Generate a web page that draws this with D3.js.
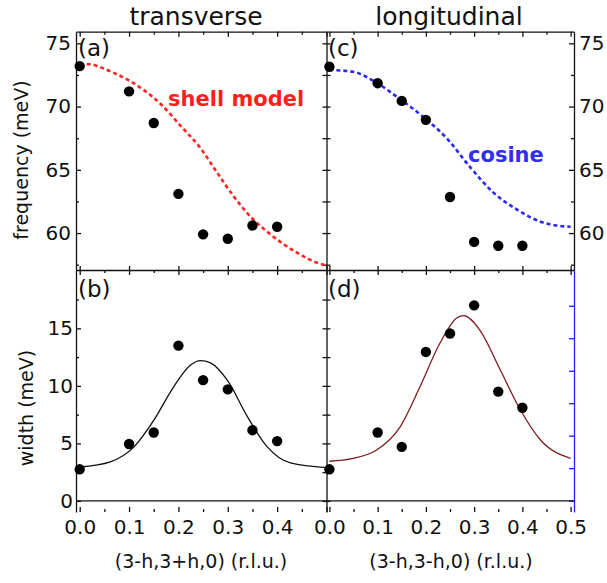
<!DOCTYPE html>
<html lang="en">
<head>
<meta charset="utf-8">
<title>transverse / longitudinal</title>
<script src="https://d3js.org/d3.v7.min.js"></script>
<style>
  body { margin: 0; background: #fff; }
  text { font-family: "DejaVu Sans", sans-serif; fill: #111; }
  .axis path, .axis line { stroke: #111; stroke-width: 1.3; }
  .blue path, .blue line { stroke: #2020ff; }
</style>
</head>
<body>
<div id="chart"></div>
<script>
// measured points (h in r.l.u.)
var hPts = [0, 0.1, 0.15, 0.2, 0.25, 0.3, 0.35, 0.4]
var freqTrans = [73.2, 71.2, 68.7, 63.1, 59.9, 59.55, 60.6, 60.5]
var freqLong = [73.15, 71.85, 70.45, 68.95, 62.85, 59.3, 59.0, 59.0]
var widthTrans = [2.75, 4.95, 5.95, 13.5, 10.5, 9.7, 6.15, 5.2]
var widthLong = [2.75, 5.95, 4.7, 12.95, 14.55, 17.0, 9.5, 8.1]

// model curves
var shellH = [0, 0.02, 0.042, 0.07, 0.103, 0.13, 0.164, 0.204, 0.245, 0.278, 0.312, 0.346, 0.38, 0.414, 0.447, 0.481, 0.5]
var shellF = [73.35, 73.35, 73.1, 72.65, 72.0, 71.3, 70.2, 68.5, 66.7, 64.8, 62.9, 61.3, 60.1, 59.1, 58.3, 57.65, 57.45]
var cosH = [0, 0.049, 0.097, 0.146, 0.194, 0.243, 0.292, 0.34, 0.389, 0.4375, 0.47, 0.5]
var cosF = [72.9, 72.75, 71.9, 70.6, 69.2, 67.5, 65.2, 63.2, 61.85, 60.9, 60.6, 60.5]
var fitTH = [0, 0.062, 0.11, 0.15, 0.19, 0.224, 0.245, 0.265, 0.299, 0.34, 0.38, 0.427, 0.5]
var fitTW = [2.95, 3.4, 4.7, 7.0, 9.9, 11.8, 12.2, 12.0, 10.5, 7.3, 4.7, 3.3, 2.9]
var fitLH = [0, 0.049, 0.097, 0.146, 0.1875, 0.229, 0.264, 0.278, 0.3125, 0.354, 0.396, 0.4375, 0.5]
var fitLW = [3.45, 3.7, 4.4, 6.4, 9.9, 13.7, 15.9, 16.1, 14.8, 11.4, 7.9, 5.3, 3.7]

var xMajor = [0, 0.1, 0.2, 0.3, 0.4, 0.5]
var xMinor = [0.05, 0.15, 0.25, 0.35, 0.45]
var fMajor = [60, 65, 70, 75]
var fMinor = [57.5, 62.5, 67.5, 72.5]
var wMajor = [0, 5, 10, 15]
var wMinor = [2.5, 7.5, 12.5, 17.5]
var blueTicks = [0, 1, 2, 3, 4, 5, 6]

var w = 607
var h = 583
var svg = d3.select("#chart").append("svg")
  .attr("width", w)
  .attr("height", h)

var xL = d3.scaleLinear().domain([-0.0075, 0.5]).range([76, 326.5])
var xR = d3.scaleLinear().domain([-0.006, 0.507]).range([326.5, 574])
var yTop = d3.scaleLinear().domain([57.08, 75.92]).range([270, 31.7])
var yBot = d3.scaleLinear().domain([-0.96, 20.07]).range([512, 270])
var yBlue = d3.scaleLinear().domain([-0.35, 7.1]).range([512, 270])

function put(axis, tx, ty, cls, noDomain) {
  var g = svg.append("g")
    .attr("class", "axis " + (cls || ""))
    .attr("transform", "translate(" + tx + "," + ty + ")")
    .call(axis)
  if (noDomain) g.select(".domain").remove()
  g.selectAll("text").style("font-size", "20px").attr("fill", "#111")
  return g
}

// x axes: top edge, middle edge, bottom
;[xL, xR].forEach(function(x, i) {
  put(d3.axisBottom(x).tickValues(xMajor).tickSizeInner(5).tickSizeOuter(0).tickFormat(""), 0, 31.7)
  put(d3.axisBottom(x).tickValues(xMinor).tickSize(3).tickFormat(""), 0, 31.7, "", true)

  put(d3.axisBottom(x).tickValues(xMajor).tickSizeInner(5).tickSizeOuter(0).tickFormat(""), 0, 270)
  put(d3.axisTop(x).tickValues(xMajor).tickSize(4).tickFormat(""), 0, 270, "", true)
  put(d3.axisBottom(x).tickValues(xMinor).tickSize(3).tickFormat(""), 0, 270, "", true)

  put(d3.axisBottom(x).tickValues(xMajor).tickSizeInner(-5).tickSizeOuter(0).tickPadding(8)
      .tickFormat(function(d) { return (i == 0 && d == 0.5) ? "" : d3.format(".1f")(d) }), 0, 512, "", true)
  put(d3.axisBottom(x).tickValues(xMinor).tickSizeInner(-3).tickFormat(""), 0, 512, "", true)
})

// left y axes
put(d3.axisLeft(yTop).tickValues(fMajor).tickSizeInner(-5).tickSizeOuter(0).tickPadding(5), 76, 0)
put(d3.axisLeft(yTop).tickValues(fMinor).tickSizeInner(-3).tickFormat(""), 76, 0, "", true)
put(d3.axisLeft(yBot).tickValues(wMajor).tickSizeInner(-5).tickSizeOuter(0).tickPadding(3), 76, 0)
put(d3.axisLeft(yBot).tickValues(wMinor).tickSizeInner(-3).tickFormat(""), 76, 0, "", true)

// middle divider
;[yTop, yBot].forEach(function(y) {
  put(d3.axisLeft(y).tickValues(y === yTop ? fMajor.concat(fMinor) : wMajor.concat(wMinor)).tickSizeInner(4).tickSizeOuter(0).tickFormat(""), 326.5, 0)
  put(d3.axisRight(y).tickValues(y === yTop ? fMajor.concat(fMinor) : wMajor.concat(wMinor)).tickSizeInner(4).tickFormat(""), 326.5, 0, "", true)
})

// right axes
put(d3.axisRight(yTop).tickValues(fMajor).tickSizeInner(-5).tickSizeOuter(0).tickPadding(5), 574, 0)
put(d3.axisRight(yTop).tickValues(fMinor).tickSizeInner(-3).tickFormat(""), 574, 0, "", true)
put(d3.axisRight(yBlue).tickValues(blueTicks).tickSizeInner(-5).tickSizeOuter(0).tickFormat(""), 574, 0, "blue")

// zero line in width panels
svg.append("line")
  .attr("x1", xL.range()[0]).attr("x2", xR.range()[1])
  .attr("y1", yBot(0)).attr("y2", yBot(0))
  .attr("stroke", "#111").attr("stroke-width", 1.3)

// curves
function curve(xs, ys, x, y, color, dash, width) {
  var line = d3.line()
    .x(function(d) { return x(d[0]) })
    .y(function(d) { return y(d[1]) })
    .curve(d3.curveMonotoneX)
  svg.append("path")
    .datum(d3.zip(xs, ys))
    .attr("d", line)
    .attr("fill", "none")
    .attr("stroke", color)
    .attr("stroke-width", width)
    .attr("stroke-dasharray", dash)
}
curve(shellH, shellF, xL, yTop, "#ff2424", "4,3", 2.6)
curve(cosH, cosF, xR, yTop, "#2a2af0", "4,3", 2.6)
curve(fitTH, fitTW, xL, yBot, "#111", null, 1.3)
curve(fitLH, fitLW, xR, yBot, "#7e1e1e", null, 1.3)

// points
function dots(vals, x, y) {
  svg.append("g").selectAll("circle")
    .data(d3.zip(hPts, vals))
    .enter()
    .append("circle")
    .attr("cx", function(d) { return x(d[0]) })
    .attr("cy", function(d) { return y(d[1]) })
    .attr("r", 5.2)
    .attr("fill", "#000")
}
dots(freqTrans, xL, yTop)
dots(freqLong, xR, yTop)
dots(widthTrans, xL, yBot)
dots(widthLong, xR, yBot)

// texts
svg.append("text").attr("x", 196).attr("y", 25).attr("text-anchor", "middle")
  .style("font-size", "25px").text("transverse")
svg.append("text").attr("x", 449).attr("y", 25).attr("text-anchor", "middle")
  .style("font-size", "25px").text("longitudinal")

var panels = [["(a)", 78, 56], ["(b)", 78, 297], ["(c)", 328, 56], ["(d)", 328, 297]]
svg.selectAll(".plab")
  .data(panels)
  .enter()
  .append("text")
  .attr("class", "plab")
  .attr("x", function(d) { return d[1] })
  .attr("y", function(d) { return d[2] })
  .style("font-size", "23px")
  .text(function(d) { return d[0] })

svg.append("text").attr("x", 168).attr("y", 106)
  .style("font-size", "21px").style("font-weight", "bold").style("fill", "#ff1f1f")
  .text("shell model")
svg.append("text").attr("x", 468).attr("y", 162)
  .style("font-size", "21px").style("font-weight", "bold").style("fill", "#2f2fee")
  .text("cosine")

svg.append("text").attr("transform", "translate(28,160) rotate(-90)")
  .attr("text-anchor", "middle").style("font-size", "19px").text("frequency (meV)")
svg.append("text").attr("transform", "translate(33,408) rotate(-90)")
  .attr("text-anchor", "middle").style("font-size", "19px").text("width (meV)")

svg.append("text").attr("x", 201).attr("y", 568).attr("text-anchor", "middle")
  .style("font-size", "19px").text("(3-h,3+h,0) (r.l.u.)")
svg.append("text").attr("x", 451).attr("y", 568).attr("text-anchor", "middle")
  .style("font-size", "19px").text("(3-h,3-h,0) (r.l.u.)")
</script>
</body>
</html>
